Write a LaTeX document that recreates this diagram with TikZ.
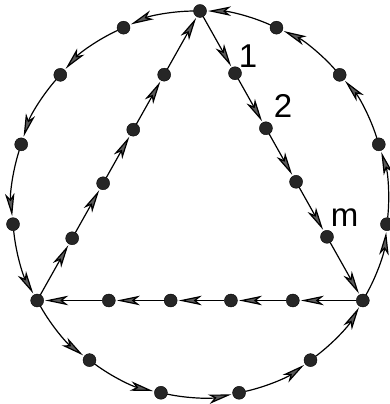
\documentclass[tikz,border=0pt]{standalone}
\usepackage{fontspec}
\setmainfont{Liberation Sans}
\usetikzlibrary{arrows.meta,calc}
\begin{document}
\begin{tikzpicture}[x=1pt,y=1pt,
  dot/.style={circle,fill=black!85,draw=black,line width=0.4pt,inner sep=0pt,minimum size=13pt,outer sep=0pt},
  seg/.style={line width=1.2pt,-{Stealth[length=23pt,width=9.5pt,inset=6pt,fill=black!65]},shorten >=1.5pt},
  arcseg/.style={seg,bend right=12,looseness=0.86},
  lbl/.style={font=\fontsize{33}{33}\selectfont,inner sep=0pt,anchor=base}]
\useasboundingbox (0,0) rectangle (390,404);
\foreach \k in {0,...,14} {
  \node[dot] (c\k) at ({200+188*cos(90+24*\k)},{200+193*sin(90+24*\k)}) {};
}
\foreach \f [count=\i] in {0.215,0.405,0.59,0.78} {
  \node[dot] (a\i) at ($(c5)!\f!(c0)$) {};
  \node[dot] (b\i) at ($(c0)!\f!(c10)$) {};
  \node[dot] (d\i) at ($(c10)!\f!(c5)$) {};
}
\foreach \k in {0,...,14} {
  \pgfmathtruncatemacro\nxt{mod(\k+1,15)}
  \draw[arcseg] (c\k) to (c\nxt);
}
\foreach \u/\v in {c5/a1,a1/a2,a2/a3,a3/a4,a4/c0,c0/b1,b1/b2,b2/b3,b3/b4,b4/c10,c10/d1,d1/d2,d2/d3,d3/d4,d4/c5}
  \draw[seg] (\u) -- (\v);
\node[lbl] (n1) at (248,336) {1};
\node[lbl] (n2) at (283,286) {2};
\node[lbl] (nm) at (344.5,177) {m};
\end{tikzpicture}
\end{document}
